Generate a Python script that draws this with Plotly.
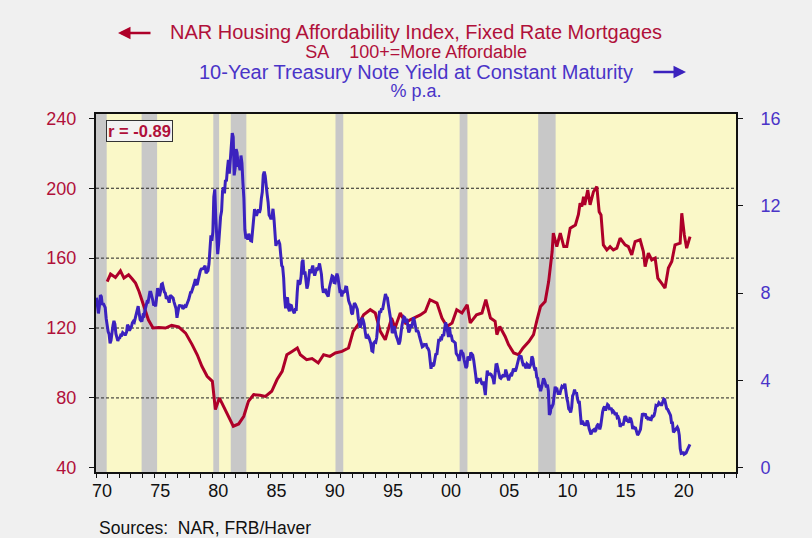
import plotly.graph_objects as go

# ---------------- data ----------------
# 10-Year Treasury yield, monthly averages starting Jan 1970 (% p.a.)
yield_start_year = 1970
yield_10y = [
    7.79, 7.24, 7.07, 7.39, 7.91, 7.84, 7.46, 7.53, 7.39, 7.33, 6.84, 6.39,
    6.24, 6.11, 5.70, 5.83, 6.39, 6.52, 6.73, 6.58, 6.14, 5.93, 5.81, 5.93,
    5.95, 6.08, 6.07, 6.19, 6.13, 6.11, 6.11, 6.21, 6.55, 6.48, 6.28, 6.36,
    6.46, 6.64, 6.71, 6.67, 6.85, 6.90, 7.13, 7.40, 7.09, 6.79, 6.73, 6.74,
    6.99, 6.96, 7.21, 7.51, 7.58, 7.54, 7.81, 8.04, 8.04, 7.90, 7.68, 7.43,
    7.50, 7.39, 7.73, 8.23, 8.06, 7.86, 8.06, 8.40, 8.43, 8.14, 8.05, 8.00,
    7.74, 7.79, 7.73, 7.56, 7.90, 7.86, 7.83, 7.77, 7.59, 7.41, 7.29, 6.87,
    7.21, 7.39, 7.46, 7.37, 7.46, 7.28, 7.33, 7.40, 7.34, 7.52, 7.58, 7.69,
    7.96, 8.03, 8.04, 8.15, 8.35, 8.46, 8.64, 8.41, 8.42, 8.64, 8.81, 9.01,
    9.10, 9.10, 9.12, 9.18, 9.25, 8.91, 8.95, 9.03, 9.33, 10.30, 10.65, 10.39,
    10.80, 12.41, 12.75, 11.47, 10.18, 9.78, 10.25, 11.10, 11.51, 11.75, 12.68, 12.84,
    12.57, 13.19, 13.12, 13.68, 14.10, 13.47, 14.28, 14.94, 15.32, 15.15, 13.39, 13.72,
    14.59, 14.43, 13.86, 13.87, 13.62, 14.30, 13.95, 13.06, 12.34, 10.91, 10.55, 10.54,
    10.46, 10.72, 10.51, 10.40, 10.38, 10.85, 11.38, 11.85, 11.65, 11.54, 11.69, 11.83,
    11.67, 11.84, 12.32, 12.63, 13.41, 13.56, 13.36, 12.72, 12.52, 12.16, 11.57, 11.50,
    11.38, 11.51, 11.86, 11.43, 10.85, 10.16, 10.31, 10.33, 10.37, 10.24, 9.78, 9.26,
    9.19, 8.70, 7.78, 7.30, 7.71, 7.80, 7.30, 7.17, 7.45, 7.43, 7.25, 7.11,
    7.08, 7.25, 7.25, 8.02, 8.61, 8.40, 8.45, 8.76, 9.42, 9.52, 8.86, 8.99,
    8.67, 8.21, 8.37, 8.72, 9.09, 8.92, 9.06, 9.26, 8.98, 8.80, 8.96, 9.11,
    9.09, 9.17, 9.36, 9.18, 8.86, 8.28, 8.02, 8.11, 8.19, 8.01, 7.87, 7.84,
    8.21, 8.47, 8.59, 8.79, 8.76, 8.48, 8.47, 8.75, 8.89, 8.72, 8.39, 8.08,
    8.09, 7.85, 8.11, 8.04, 8.07, 8.28, 8.27, 7.90, 7.65, 7.53, 7.42, 7.09,
    7.03, 7.34, 7.54, 7.48, 7.39, 7.26, 6.84, 6.59, 6.42, 6.59, 6.87, 6.77,
    6.60, 6.26, 5.98, 5.97, 6.04, 5.96, 5.81, 5.68, 5.36, 5.33, 5.72, 5.77,
    5.75, 5.97, 6.48, 6.97, 7.18, 7.10, 7.30, 7.24, 7.46, 7.74, 7.96, 7.81,
    7.78, 7.47, 7.20, 7.06, 6.63, 6.17, 6.28, 6.49, 6.20, 6.04, 5.93, 5.71,
    5.65, 5.81, 6.27, 6.51, 6.74, 6.91, 6.87, 6.64, 6.83, 6.53, 6.20, 6.30,
    6.58, 6.42, 6.69, 6.89, 6.71, 6.49, 6.22, 6.30, 6.21, 6.03, 5.88, 5.81,
    5.54, 5.57, 5.65, 5.64, 5.65, 5.50, 5.46, 5.34, 4.81, 4.53, 4.83, 4.65,
    4.72, 5.00, 5.23, 5.18, 5.54, 5.90, 5.79, 5.94, 5.92, 6.11, 6.03, 6.28,
    6.66, 6.52, 6.26, 5.99, 6.44, 6.10, 6.05, 5.83, 5.80, 5.74, 5.72, 5.24,
    5.16, 5.10, 4.89, 5.14, 5.39, 5.28, 5.24, 4.97, 4.73, 4.57, 4.65, 5.09,
    5.04, 4.91, 5.28, 5.21, 5.16, 4.93, 4.65, 4.26, 3.87, 3.94, 4.05, 4.03,
    4.05, 3.90, 3.81, 3.96, 3.57, 3.33, 3.98, 4.45, 4.27, 4.29, 4.30, 4.27,
    4.15, 4.08, 3.83, 4.35, 4.72, 4.73, 4.50, 4.28, 4.13, 4.10, 4.19, 4.23,
    4.22, 4.17, 4.50, 4.34, 4.14, 4.00, 4.18, 4.26, 4.20, 4.46, 4.54, 4.47,
    4.42, 4.57, 4.72, 4.99, 5.11, 5.11, 5.09, 4.88, 4.72, 4.73, 4.60, 4.56,
    4.76, 4.72, 4.56, 4.69, 4.75, 5.10, 5.00, 4.67, 4.52, 4.53, 4.15, 4.10,
    3.74, 3.74, 3.51, 3.68, 3.88, 4.10, 4.01, 3.89, 3.69, 3.81, 3.53, 2.42,
    2.52, 2.87, 2.82, 2.93, 3.29, 3.72, 3.56, 3.59, 3.40, 3.39, 3.40, 3.59,
    3.73, 3.69, 3.73, 3.85, 3.42, 3.20, 3.01, 2.70, 2.65, 2.54, 2.76, 3.29,
    3.39, 3.58, 3.41, 3.46, 3.17, 3.00, 3.00, 2.30, 1.98, 2.15, 2.01, 1.98,
    1.97, 1.97, 2.17, 2.05, 1.80, 1.62, 1.53, 1.68, 1.72, 1.75, 1.65, 1.72,
    1.91, 1.98, 1.96, 1.76, 1.93, 2.30, 2.58, 2.74, 2.81, 2.62, 2.72, 2.90,
    2.86, 2.71, 2.72, 2.71, 2.56, 2.60, 2.54, 2.42, 2.53, 2.30, 2.33, 2.21,
    1.88, 1.98, 2.04, 1.94, 2.20, 2.36, 2.32, 2.17, 2.17, 2.07, 2.26, 2.24,
    2.09, 1.78, 1.89, 1.81, 1.81, 1.64, 1.50, 1.56, 1.63, 1.76, 2.14, 2.49,
    2.43, 2.42, 2.48, 2.30, 2.30, 2.19, 2.32, 2.21, 2.20, 2.36, 2.35, 2.40,
    2.58, 2.86, 2.84, 2.87, 2.98, 2.91, 2.89, 2.89, 3.00, 3.15, 3.12, 2.83,
    2.71, 2.68, 2.57, 2.53, 2.40, 2.07, 2.06, 1.63, 1.70, 1.71, 1.81, 1.86,
    1.76, 1.50, 0.87, 0.66, 0.67, 0.73, 0.62, 0.65, 0.68, 0.79, 0.87, 0.93,
    1.08,
]

# NAR Housing Affordability Index, fixed rate, time in years
hai_time = [
    1970.96, 1971.25, 1971.67, 1972.10, 1972.40, 1972.80, 1973.10, 1973.40, 1973.70,
    1974.00, 1974.25, 1974.50, 1974.90, 1975.40, 1975.97, 1976.50, 1977.10, 1977.70,
    1978.26, 1978.70, 1979.10, 1979.55, 1980.00, 1980.26, 1980.60, 1981.00, 1981.40,
    1981.80, 1982.26, 1982.70, 1983.10, 1983.55, 1984.10, 1984.56, 1985.10, 1985.56,
    1986.00, 1986.40, 1986.85, 1987.30, 1987.56, 1988.10, 1988.57, 1989.10, 1989.56,
    1990.10, 1990.57, 1991.14, 1991.70, 1992.10, 1992.57, 1993.00, 1993.57, 1994.00,
    1994.43, 1994.86, 1995.40, 1995.70, 1996.15, 1996.60, 1997.00, 1997.44, 1997.87,
    1998.30, 1998.70, 1999.30, 1999.73, 2000.16, 2000.60, 2001.00, 2001.45, 2001.90,
    2002.16, 2002.70, 2003.17, 2003.50, 2003.90, 2004.30, 2004.45, 2004.70, 2005.16,
    2005.45, 2005.90, 2006.30, 2006.70, 2007.20, 2007.60, 2007.90, 2008.20, 2008.60,
    2008.90, 2009.20, 2009.30, 2009.60, 2009.90, 2010.20, 2010.46, 2010.75, 2011.20,
    2011.46, 2011.60, 2011.75, 2011.90, 2012.00, 2012.26, 2012.46, 2012.75, 2013.04,
    2013.24, 2013.40, 2013.60, 2013.90, 2014.18, 2014.46, 2014.76, 2015.04, 2015.47,
    2015.75, 2016.04, 2016.33, 2016.76, 2017.04, 2017.19, 2017.47, 2017.76, 2018.05,
    2018.28, 2018.60, 2018.90, 2019.19, 2019.48, 2019.76, 2020.20, 2020.34, 2020.56,
    2020.76, 2021.05,
]
hai_value = [
    146.6, 150.9, 148.9, 152.7, 148.6, 150.5, 148.2, 145.7, 140.9,
    135.2, 129.5, 124.7, 120.0, 120.3, 120.0, 121.5, 120.7, 117.1,
    110.5, 104.7, 98.1, 92.4, 89.5, 73.3, 80.0, 74.3, 68.6,
    63.8, 65.1, 69.5, 78.1, 81.9, 81.5, 80.9, 83.8, 90.5,
    95.2, 104.7, 106.6, 108.6, 104.7, 101.9, 102.5, 100.0, 104.7,
    103.8, 105.7, 106.6, 108.6, 118.1, 122.3, 127.6, 130.5, 128.6,
    118.1, 113.3, 125.7, 120.0, 128.6, 122.9, 124.7, 126.0, 127.5,
    129.5, 136.2, 134.3, 125.7, 120.9, 122.9, 130.5, 128.6, 133.3,
    122.9, 127.6, 128.6, 136.2, 125.7, 123.8, 116.2, 120.9, 115.2,
    110.5, 105.7, 104.7, 108.6, 112.3, 116.2, 124.7, 132.3, 135.2,
    146.6, 163.8, 174.3, 166.6, 174.3, 166.6, 166.6, 177.1, 179.0,
    185.0, 191.4, 189.5, 195.2, 190.5, 199.0, 190.5, 198.0, 200.9,
    186.6, 184.7, 167.6, 164.7, 166.6, 164.7, 165.7, 171.4, 167.6,
    166.6, 161.9, 169.5, 170.5, 163.8, 155.2, 162.9, 159.0, 160.0,
    148.6, 145.7, 142.9, 154.3, 158.1, 167.6, 168.6, 185.7, 173.3,
    165.7, 172.3,
]

# recessions (shaded), in years
rec_start = [1970.00, 1973.92, 1980.08, 1981.58, 1990.58, 2001.25, 2008.00]
rec_end = [1970.92, 1975.25, 1980.58, 1982.92, 1991.25, 2001.92, 2009.50]

left_ticks = [40, 80, 120, 160, 200, 240]
left_grid = [80, 120, 160, 200]
right_ticks = [0, 4, 8, 12, 16]
x_major = list(range(1970, 2026))
x_labels = {1970: "70", 1975: "75", 1980: "80", 1985: "85", 1990: "90", 1995: "95",
            2000: "00", 2005: "05", 2010: "10", 2015: "15", 2020: "20"}
corr_text = "r = -0.89"

# ---------------- styling ----------------
RED = "#AE0029"
BLUE = "#3B22BE"
RED_TXT = "#B0103A"
BLUE_TXT = "#4A34C8"
FONT = "Liberation Sans, Arial, sans-serif"

yield_time = [yield_start_year + (i + 0.5) / 12 for i in range(len(yield_10y))]

fig = go.Figure()
fig.add_trace(go.Scatter(x=yield_time, y=yield_10y, mode="lines", yaxis="y2",
                         line=dict(color=BLUE, width=3), showlegend=False, hoverinfo="skip"))
fig.add_trace(go.Scatter(x=hai_time, y=hai_value, mode="lines", yaxis="y",
                         line=dict(color=RED, width=3), showlegend=False, hoverinfo="skip"))

shapes = []
for s, e in zip(rec_start, rec_end):
    shapes.append(dict(type="rect", xref="x", yref="paper", x0=s, x1=e, y0=0, y1=1,
                       fillcolor="#C8C8C8", line=dict(width=0), layer="below"))
for g in left_grid:
    shapes.append(dict(type="line", xref="paper", yref="y", x0=0, x1=1, y0=g, y1=g,
                       line=dict(color="#222222", width=1, dash="3px,2px"), layer="below"))

L, T, W, H = 96, 114, 640, 358


def px(xp):
    return (xp - L) / W


def py(yp):
    return (T + H - yp) / H


title_red = ('<span style="font-size:20px">NAR Housing Affordability Index, Fixed Rate Mortgages</span>'
             '<br><span style="font-size:18px">SA\u00a0\u00a0\u00a0\u00a0100+=More Affordable</span>')
title_blue = ('<span style="font-size:20px">10-Year Treasury Note Yield at Constant Maturity</span>'
              '<br><span style="font-size:18px">% p.a.</span>')

annotations = [
    dict(text=title_red, x=px(416), y=py(41.3), font=dict(size=14.3, color=RED_TXT)),
    dict(text=title_blue, x=px(416), y=py(81), font=dict(size=13.9, color=BLUE_TXT)),
    dict(text="Sources:\u00a0\u00a0NAR, FRB/Haver", x=px(97), y=py(528), xanchor="left",
         font=dict(size=17.5, color="#111111")),
    dict(text="<b>" + corr_text + "</b>", x=px(106), y=py(131), xanchor="left",
         font=dict(size=16.5, color=RED_TXT), bgcolor="#F2F2F2", bordercolor="#333333",
         borderwidth=1, borderpad=1),
]
for a in annotations:
    a.setdefault("xanchor", "center")
    a.update(xref="paper", yref="paper", showarrow=False, yanchor="middle", align="center")
    a["font"]["family"] = FONT

annotations.append(dict(text="", xref="paper", yref="paper", x=px(118), y=py(33), ax=34, ay=0,
                        showarrow=True, arrowhead=2, arrowsize=1, arrowwidth=2.5, arrowcolor=RED))
annotations.append(dict(text="", xref="paper", yref="paper", x=px(686), y=py(72), ax=-34, ay=0,
                        showarrow=True, arrowhead=2, arrowsize=1, arrowwidth=2.5, arrowcolor=BLUE))

fig.update_layout(
    width=812, height=538,
    margin=dict(l=L, r=812 - L - W, t=T, b=538 - T - H),
    paper_bgcolor="#F0F0F0",
    plot_bgcolor="#FAF8C8",
    font=dict(family=FONT),
    shapes=shapes,
    annotations=annotations,
    xaxis=dict(range=[1970, 2025], tickmode="array", tickvals=x_major,
               ticktext=[x_labels.get(v, "") for v in x_major],
               ticks="outside", ticklen=4, tickcolor="#111", tickwidth=1,
               ticklabelshift=6, ticklabelstandoff=-3, showgrid=False, zeroline=False,
               showline=True, linecolor="#111", linewidth=2, mirror=True,
               tickfont=dict(size=18, color="#111")),
    yaxis=dict(range=[37.6, 242.5], tickmode="array", tickvals=left_ticks,
               ticks="outside", ticklen=5, tickcolor="#111", showgrid=False, zeroline=False,
               showline=True, linecolor="#111", linewidth=2, ticklabelstandoff=9,
               tickfont=dict(size=18, color=RED_TXT)),
    yaxis2=dict(range=[-0.19, 16.2], tickmode="array", tickvals=right_ticks,
                overlaying="y", side="right",
                ticks="outside", ticklen=5, tickcolor="#111", showgrid=False, zeroline=False,
                showline=True, linecolor="#111", linewidth=2, ticklabelstandoff=14,
                tickfont=dict(size=18, color=BLUE_TXT)),
)

fig.write_html("out.html", config={"displayModeBar": False},
               post_script="document.body.style.margin='0px';")
